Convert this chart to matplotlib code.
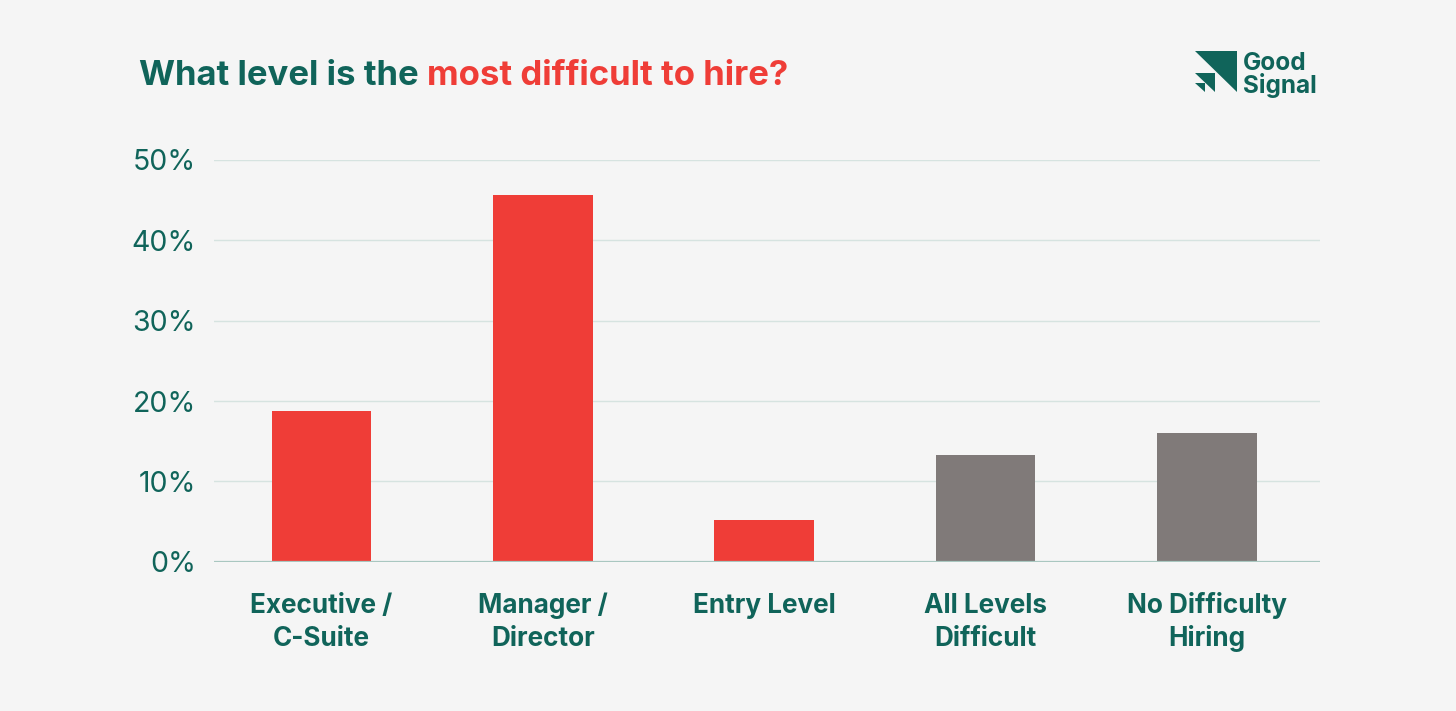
import matplotlib
matplotlib.use("Agg")
import matplotlib.pyplot as plt
from matplotlib.patches import Polygon
from matplotlib.transforms import blended_transform_factory

categories = ["Executive /\nC-Suite", "Manager /\nDirector", "Entry Level",
              "All Levels\nDifficult", "No Difficulty\nHiring"]
values = [18.7, 45.6, 5.2, 13.3, 16.0]
bar_colors = ["#EF3D37", "#EF3D37", "#EF3D37", "#807A79", "#807A79"]
yticks = [0, 10, 20, 30, 40, 50]
ytick_labels = ["0%", "10%", "20%", "30%", "40%", "50%"]
title_part1 = "What level is the "
title_part2 = "most difficult to hire?"

TEAL = "#10645A"
RED = "#EF3D37"
BG = "#F5F5F5"
FONT = ["Inter", "DejaVu Sans"]

W, H = 1456, 711
fig = plt.figure(figsize=(W / 100, H / 100), dpi=100, facecolor=BG)
ax_bottom, ax_top = 561.7, 160
ax = fig.add_axes([214 / W, 1 - ax_bottom / H, (1320 - 214) / W, (ax_bottom - ax_top) / H])
ax.set_facecolor(BG)

x = list(range(len(categories)))
ax.bar(x, values, width=0.45, color=bar_colors, zorder=3)
ax.set_xlim(-0.485, 4.51)
ax.set_ylim(0, 50)

ax.set_yticks(yticks)
ax.set_yticklabels(ytick_labels, fontsize=20.5, color=TEAL, family=FONT, fontweight="normal")
ax.set_xticks(x)
ax.set_xticklabels([])
ax.tick_params(axis="y", length=0, pad=13)
ax.tick_params(axis="x", length=0)

trans = blended_transform_factory(ax.transData, ax.transAxes)
ax_h = ax_bottom - ax_top
line_baselines = [613, 646]
for xi, cat in zip(x, categories):
    for line, base in zip(cat.split("\n"), line_baselines):
        ax.text(xi, -(base - ax_bottom) / ax_h, line, transform=trans,
                ha="center", va="baseline", fontsize=18.8, color=TEAL,
                family=FONT, fontweight="bold")

for y in yticks[1:]:
    ax.axhline(y, color="#D6E3E0", lw=1.0, zorder=1)
ax.axhline(0, color="#A9C7C0", lw=1.6, zorder=4)
for s in ax.spines.values():
    s.set_visible(False)

# Title in two colours
t1 = fig.text(139 / W, 1 - 85 / H, title_part1, fontsize=25, fontweight="bold",
              color=TEAL, family=FONT, va="baseline", ha="left")
fig.canvas.draw()
bb = t1.get_window_extent()
fig.text(bb.x1 / W, 1 - 85 / H, title_part2, fontsize=25, fontweight="bold",
         color=RED, family=FONT, va="baseline", ha="left")

# Logo
def fp(px, py):
    return (px / W, 1 - py / H)

for tri in [
    [(1195, 50.7), (1237, 50.7), (1237, 92)],
    [(1195, 72.7), (1215, 72.7), (1215, 92)],
    [(1195, 82.7), (1205, 82.7), (1205, 92)],
]:
    fig.patches.append(Polygon([fp(*p) for p in tri], closed=True,
                               transform=fig.transFigure, facecolor=TEAL,
                               edgecolor="none"))
fig.text(1243 / W, 1 - 70 / H, "Good", fontsize=17.5, fontweight="bold",
         color=TEAL, family=FONT, va="baseline", ha="left")
fig.text(1243 / W, 1 - 93 / H, "Signal", fontsize=17.5, fontweight="bold",
         color=TEAL, family=FONT, va="baseline", ha="left")

fig.savefig("out.png", dpi=100, facecolor=BG)
